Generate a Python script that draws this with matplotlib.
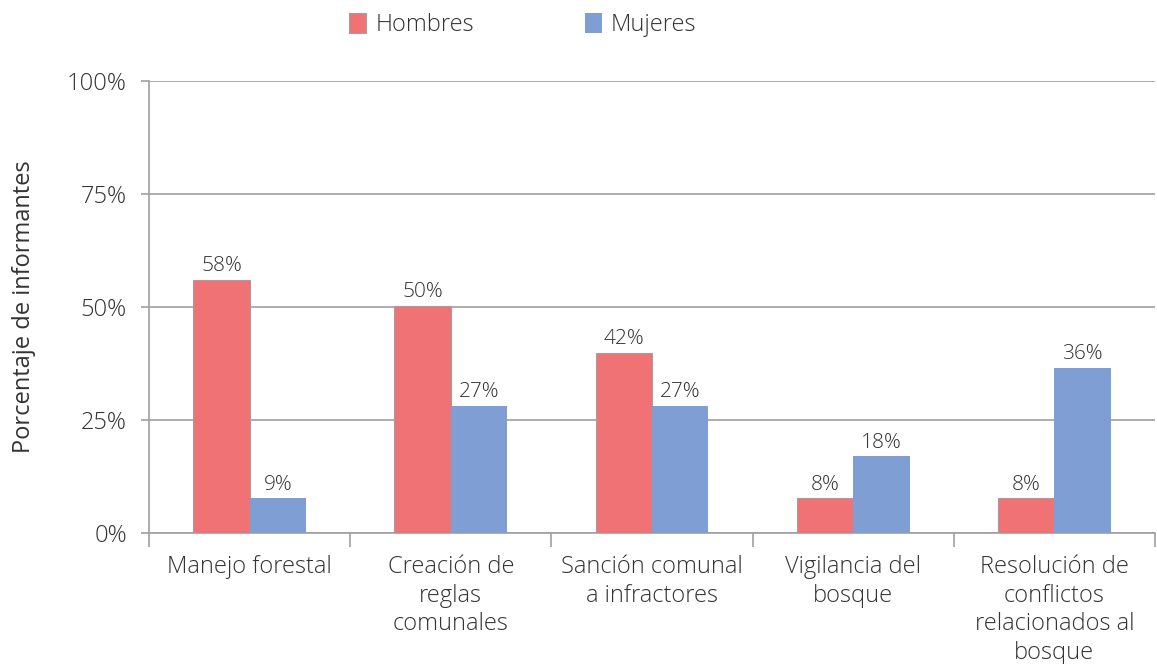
import matplotlib
import numpy as np

matplotlib.use("Agg")
import matplotlib.pyplot as plt

categorias = ["Manejo forestal", "Creación de\nreglas\ncomunales", "Sanción comunal\na infractores",
              "Vigilancia del\nbosque", "Resolución de\nconflictos\nrelacionados al\nbosque"]
hombres = [0.56, 0.502, 0.398, 0.077, 0.077]
mujeres = [0.077, 0.281, 0.281, 0.170, 0.365]
etiquetas_h = ["58%", "50%", "42%", "8%", "8%"]
etiquetas_m = ["9%", "27%", "27%", "18%", "36%"]
yticks = [0, 0.25, 0.5, 0.75, 1.0]
ytick_labels = ["0%", "25%", "50%", "75%", "100%"]

plt.rcParams['font.family'] = ['Open Sans', 'DejaVu Sans']
plt.rcParams['font.weight'] = 'light'
texto = '#333333'
rojo = '#F07275'
azul = '#7F9ED3'

fig = plt.figure(figsize=(11.57, 6.64), dpi=100)
ax = fig.add_axes([0.1288, 0.1973, 0.8695, 0.6807])

x = np.arange(len(categorias))
w = 0.28
ax.bar(x - w / 2, hombres, w, color=rojo, edgecolor='#a0a0a0', linewidth=0.8, label='Hombres', zorder=3)
ax.bar(x + w / 2, mujeres, w, color=azul, linewidth=0, label='Mujeres', zorder=3)

for i in range(len(categorias)):
    ax.text(x[i] - w / 2, hombres[i] + 0.008, etiquetas_h[i], ha='center', va='bottom', fontsize=15, color=texto)
    ax.text(x[i] + w / 2, mujeres[i] + 0.008, etiquetas_m[i], ha='center', va='bottom', fontsize=15, color=texto)

ax.set_xlim(-0.5, len(categorias) - 0.5)
ax.set_ylim(0, 1.0)
ax.set_yticks(yticks)
ax.set_yticklabels(ytick_labels, fontsize=17, color=texto)
ax.yaxis.grid(True, color='#a0a0a0', linewidth=1.2, zorder=0)
ax.set_axisbelow(True)

ax.set_xticks(x)
ax.set_xticklabels(categorias, fontsize=17, color=texto, linespacing=1.25)
ax.tick_params(axis='x', length=0, pad=16)
ax.set_xticks(np.arange(-0.5, len(categorias)), minor=True)
ax.tick_params(axis='x', which='minor', length=10, color='#a0a0a0', width=1.2)
ax.tick_params(axis='y', length=6, color='#a0a0a0', width=1.2, pad=10)

for s in ['top', 'right']:
    ax.spines[s].set_visible(False)
for s in ['left', 'bottom']:
    ax.spines[s].set_color('#a0a0a0')
    ax.spines[s].set_linewidth(1.2)

ax.set_ylabel('Porcentaje de informantes', fontsize=17, color=texto, labelpad=22)

fig.legend(loc='center', bbox_to_anchor=(0.452, 0.962), ncol=2, frameon=False, fontsize=17,
           handlelength=0.7, handleheight=0.9, handletextpad=0.4, columnspacing=4.7, labelcolor=texto)

fig.savefig('out.png', dpi=100)
